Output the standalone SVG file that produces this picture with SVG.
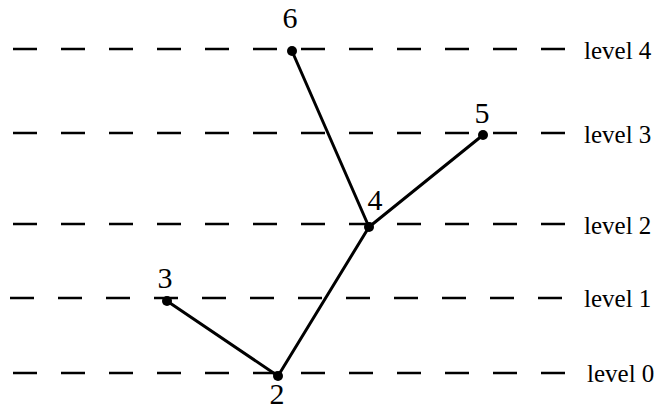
<svg xmlns="http://www.w3.org/2000/svg" width="656" height="410" viewBox="0 0 656 410">
<style>
.lvl{stroke:#000;stroke-width:2.6;stroke-dasharray:24 24;fill:none}
.edge{stroke:#000;stroke-width:3;fill:none;stroke-linecap:round}
.dot{fill:#000}
text{font-family:"Liberation Serif","DejaVu Serif",serif;font-size:25px;fill:#000}
.nl{text-anchor:middle;font-size:30px}
</style>
<rect width="656" height="410" fill="#fff"/>
<g id="levels">
<line class="lvl" x1="13" y1="49" x2="566" y2="49"/>
<line class="lvl" x1="13" y1="133" x2="566" y2="133"/>
<line class="lvl" x1="13" y1="224" x2="566" y2="224"/>
<line class="lvl" x1="10" y1="298" x2="563" y2="298"/>
<line class="lvl" x1="13" y1="373" x2="566" y2="373"/>
<text x="584" y="59">level 4</text>
<text x="584" y="143">level 3</text>
<text x="584" y="234">level 2</text>
<text x="584" y="307">level 1</text>
<text x="587" y="382">level 0</text>
</g>
<g id="connectors">
<line class="edge" x1="292" y1="51" x2="369" y2="227"/>
<line class="edge" x1="483" y1="135" x2="369" y2="227"/>
<line class="edge" x1="369" y1="227" x2="278" y2="376"/>
<line class="edge" x1="167" y1="301" x2="278" y2="376"/>
</g>
<g id="n6"><circle class="dot" cx="292" cy="51" r="5"/><text class="nl" x="290" y="28">6</text></g>
<g id="n5"><circle class="dot" cx="483" cy="135" r="5"/><text class="nl" x="482" y="123">5</text></g>
<g id="n4"><circle class="dot" cx="369" cy="227" r="5"/><text class="nl" x="375" y="210">4</text></g>
<g id="n3"><circle class="dot" cx="167" cy="301" r="5"/><text class="nl" x="165" y="288">3</text></g>
<g id="n2"><circle class="dot" cx="278" cy="376" r="5"/><text class="nl" x="277" y="404">2</text></g>
</svg>
